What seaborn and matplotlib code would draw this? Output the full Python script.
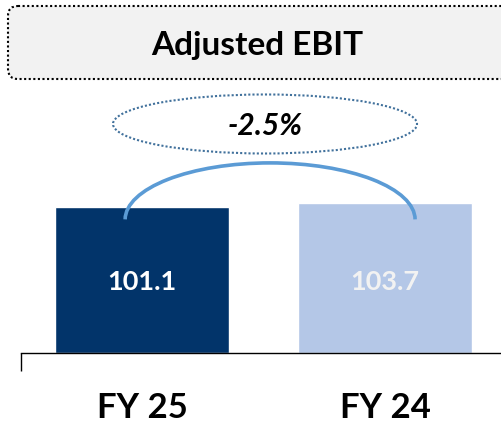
"""Adjusted EBIT: FY 25 vs FY 24."""

import matplotlib.pyplot as plt
import seaborn as sns
from matplotlib.patches import Arc, Ellipse, FancyBboxPatch

periods = ["FY 25", "FY 24"]
ebit = [101.1, 103.7]
change_label = "-2.5%"
title = "Adjusted EBIT"

bar_colors = ["#02346a", "#b4c7e7"]
value_colors = ["#ffffff", "#f2f2f2"]

sns.set_theme(style="white")
plt.rcParams["font.family"] = ["Lato", "DejaVu Sans"]

fig = plt.figure(figsize=(5.01, 4.25), dpi=100)
fig.patch.set_facecolor("white")

# decoration layer in pixel units (title box)
deco = fig.add_axes([0, 0, 1, 1])
deco.set_xlim(0, 501)
deco.set_ylim(425, 0)
deco.axis("off")
box = FancyBboxPatch((8, 6), 520, 73, boxstyle="round,pad=0,rounding_size=10",
                     facecolor="#f2f2f2", edgecolor="black", linewidth=1.5,
                     linestyle=(0, (1, 1.2)))
deco.add_patch(box)
deco.text(257, 55, title, ha="center", va="baseline", fontsize=24,
          fontweight="bold", color="black")

# bars
ax = fig.add_axes([21 / 501, 72 / 425, 480 / 501, 353 / 425])
ax.patch.set_visible(False)
sns.barplot(x=periods, y=ebit, hue=periods, palette=bar_colors, legend=False,
            width=0.716, saturation=1, ax=ax)
ax.set_xlim(-0.498, 1.477)
ax.set_ylim(0, 244)

for i, (v, c) in enumerate(zip(ebit, value_colors)):
    ax.text(i, 43.6, f"{v:.1f}", ha="center", va="baseline", fontsize=19.5,
            fontweight="bold", color=c)

# connector arc and change bubble
arc = Arc((0.527, 92.2), 1.193, 78.4, theta1=15, theta2=165,
          color="#5b9bd5", linewidth=2.6, clip_on=False)
ax.add_patch(arc)
bubble = Ellipse((0.506, 158.3), 1.251, 40.8, facecolor="none",
                 edgecolor="#41719c", linewidth=1.5, linestyle=(0, (1, 1)),
                 clip_on=False)
ax.add_patch(bubble)
ax.text(0.506, 150.7, change_label, ha="center", va="baseline", fontsize=21.5,
        fontweight="bold", fontstyle="italic", color="black")

sns.despine(ax=ax, left=True)
ax.spines["bottom"].set_color("black")
ax.spines["bottom"].set_linewidth(1.0)
ax.set_yticks([])
ax.set_xticks([0, 1])
ax.set_xticklabels(periods, fontsize=25, fontweight="bold", color="black")
ax.set_xticks([-0.498], minor=True)
ax.tick_params(axis="x", which="major", length=0, pad=28)
ax.tick_params(axis="x", which="minor", length=13, width=1.0, color="black",
               direction="out", bottom=True)
ax.set_xlabel("")
ax.set_ylabel("")

plt.savefig("out.png", dpi=100)
plt.close()
